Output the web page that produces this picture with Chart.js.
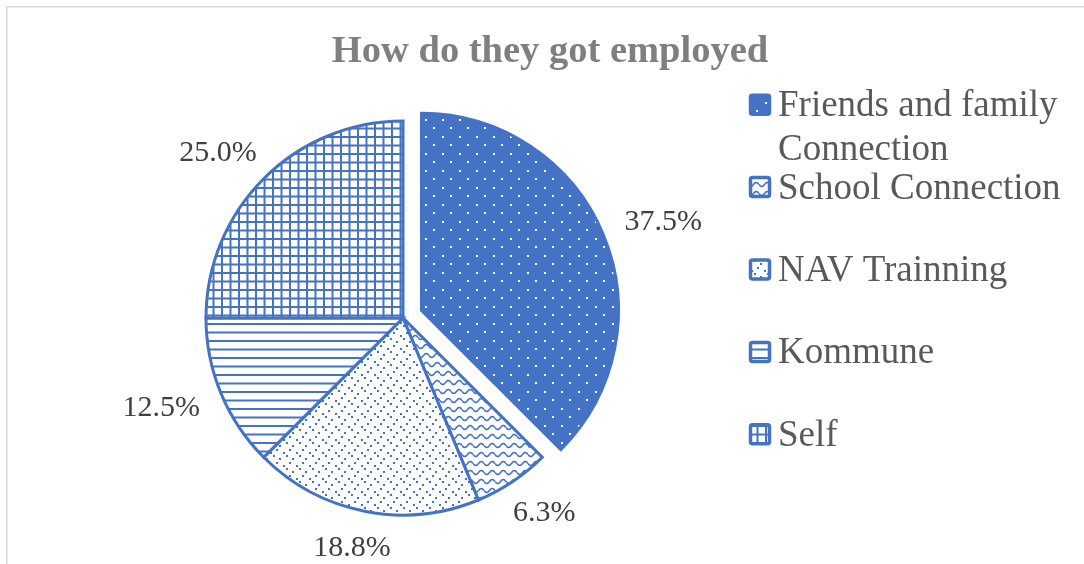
<!DOCTYPE html>
<html><head><meta charset="utf-8">
<script src="https://cdn.jsdelivr.net/npm/chart.js@4.4.0/dist/chart.umd.min.js"></script>
<style>html,body{margin:0;padding:0;background:#fff;} canvas{display:block}</style>
</head><body>
<canvas id="c" width="1084" height="564"></canvas>
<script>
// ---- data ----
const titleText = 'How do they got employed';
const categories = ['Friends and family Connection', 'School Connection', 'NAV Trainning', 'Kommune', 'Self'];
const counts = [6, 1, 3, 2, 4];
const explode = [20, 0, 0, 0, 0];

// ---- styles ----
const BLUE = '#4472C4';
const FONT = '"Liberation Serif", "Times New Roman", serif';
const canvas = document.getElementById('c');
const ctx = canvas.getContext('2d');

function makePattern(w, h, bg, draw) {
  const c = document.createElement('canvas');
  c.width = w; c.height = h;
  const g = c.getContext('2d');
  g.fillStyle = bg; g.fillRect(0, 0, w, h);
  g.fillStyle = BLUE; g.strokeStyle = BLUE;
  draw(g, w, h);
  return ctx.createPattern(c, 'repeat');
}
const patterns = [
  makePattern(17, 17, BLUE, g => { g.fillStyle = '#fff'; g.fillRect(0, 0, 2, 2); g.fillRect(8, 8, 2, 2); }),
  makePattern(11, 9, '#fff', (g, w) => {
    g.lineWidth = 1.6; g.beginPath();
    for (let x = 0; x <= w; x += 0.5) { const y = 4.5 + 2 * Math.sin(2 * Math.PI * x / w); x === 0 ? g.moveTo(x, y) : g.lineTo(x, y); }
    g.stroke();
  }),
  makePattern(13, 13, '#fff', g => { [[0,0],[6,3],[3,7],[10,10]].forEach(p => g.fillRect(p[0], p[1], 2, 2)); }),
  makePattern(8, 17, '#fff', (g, w) => { g.fillRect(0, 0, w, 2); g.fillRect(0, 8.5, w, 2); }),
  makePattern(17, 17, '#fff', (g, w, h) => { g.fillRect(0, 0, w, 2); g.fillRect(0, 8.5, w, 2); g.fillRect(0, 0, 2, h); g.fillRect(8.5, 0, 2, h); })
];

const framePlugin = {
  id: 'frame',
  beforeDraw(chart) {
    const c = chart.ctx;
    c.save();
    c.fillStyle = '#fff'; c.fillRect(0, 0, chart.width, chart.height);
    c.fillStyle = '#d9d9d9';
    c.fillRect(6, 6, chart.width - 6, 1.5);
    c.fillRect(6, 6, 1.5, chart.height - 6);
    c.restore();
  }
};

const explodePlugin = {
  id: 'explode',
  afterDatasetUpdate(chart, args) {
    args.meta.data.forEach((arc, i) => {
      const d = explode[i] || 0;
      if (!d) return;
      const a = (arc.startAngle + arc.endAngle) / 2;
      arc.x += Math.cos(a) * d;
      arc.y += Math.sin(a) * d;
    });
  }
};

const labelPlugin = {
  id: 'pctLabels',
  afterDatasetsDraw(chart) {
    const c = chart.ctx;
    const meta = chart.getDatasetMeta(0);
    const total = counts.reduce((a, b) => a + b, 0);
    c.save();
    c.font = '30px ' + FONT;
    c.fillStyle = '#404040';
    c.textAlign = 'center';
    c.textBaseline = 'middle';
    meta.data.forEach((arc, i) => {
      const txt = (counts[i] / total * 100).toFixed(1) + '%';
      const a = (arc.startAngle + arc.endAngle) / 2;
      const dx = Math.cos(a), dy = Math.sin(a);
      const w = c.measureText(txt).width, h = 22;
      const r = arc.outerRadius + 26;
      const x = arc.x + dx * r + dx * w / 2;
      const y = arc.y + dy * r + dy * h / 2;
      c.fillText(txt, x, y + 1);
    });
    c.restore();
  }
};

const legendPlugin = {
  id: 'customLegend',
  afterDraw(chart) {
    const c = chart.ctx;
    const boxX = 749, box = 22, textX = 778, firstY = 104.7, step = 82.4, lineH = 44, maxW = 300;
    c.save();
    c.font = '37px ' + FONT;
    c.textBaseline = 'alphabetic';
    categories.forEach((label, i) => {
      const cy = firstY + i * step;
      const words = label.split(' ');
      const lines = []; let cur = '';
      words.forEach(wd => {
        const t = cur ? cur + ' ' + wd : wd;
        if (c.measureText(t).width > maxW && cur) { lines.push(cur); cur = wd; } else cur = t;
      });
      lines.push(cur);
      c.fillStyle = patterns[i];
      c.beginPath();
      c.roundRect(boxX + 1.5, cy - box / 2 + 1.5, box - 3, box - 3, 2);
      c.fill();
      c.strokeStyle = BLUE; c.lineWidth = 3.5; c.stroke();
      c.fillStyle = '#595959';
      lines.forEach((ln, k) => c.fillText(ln, textX, cy + 11.5 + k * lineH));
    });
    c.restore();
  }
};

const titlePlugin = {
  id: 'customTitle',
  afterDraw(chart) {
    const c = chart.ctx;
    c.save();
    c.font = 'bold 38.5px ' + FONT;
    c.fillStyle = '#7f7f7f';
    c.textAlign = 'center';
    c.textBaseline = 'alphabetic';
    c.fillText(titleText, 550, 62);
    c.restore();
  }
};

new Chart(ctx, {
  type: 'pie',
  data: {
    labels: categories,
    datasets: [{
      data: counts,
      backgroundColor: patterns,
      borderColor: BLUE,
      borderWidth: 3,
      borderJoinStyle: 'miter',
      hoverOffset: 0,
      radius: 197
    }]
  },
  options: {
    responsive: false,
    animation: false,
    events: [],
    layout: { padding: { left: 190, right: 468, top: 110, bottom: 38 } },
    plugins: { legend: { display: false }, title: { display: false }, tooltip: { enabled: false } }
  },
  plugins: [framePlugin, explodePlugin, labelPlugin, legendPlugin, titlePlugin]
});
</script>
</body></html>
